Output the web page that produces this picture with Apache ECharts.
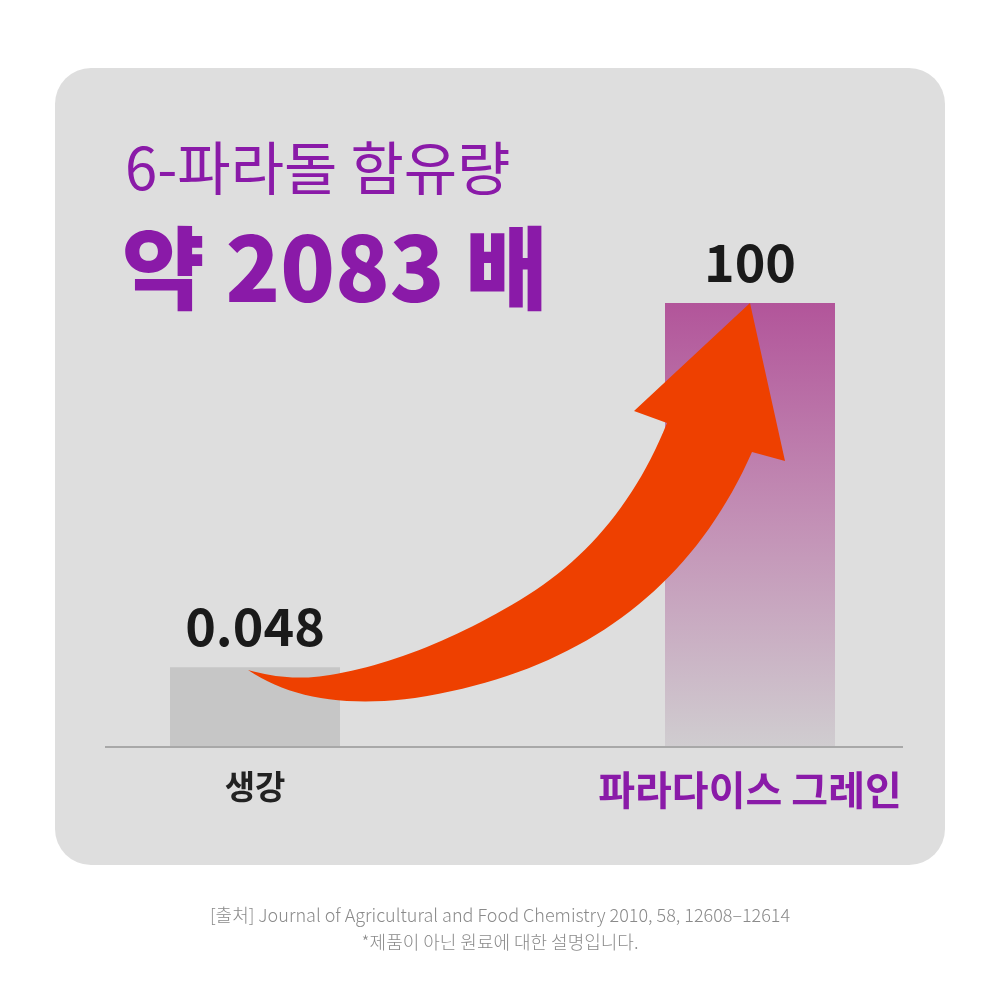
<!DOCTYPE html>
<html><head><meta charset="utf-8">
<script src="https://cdn.jsdelivr.net/npm/echarts@6/dist/echarts.min.js"></script>
<style>html,body{margin:0;padding:0;background:#fff}#c{width:1000px;height:1000px}</style>
</head><body><div id="c"></div>
<script>
const categories = ['생강', '파라다이스 그레인'];
const values = [0.048, 100];
const valueLabels = ['0.048', '100'];
const titleLine1 = '6-파라돌 함유량';
const titleLine2 = '약 2083 배';
const sourceLine1 = '[출처] Journal of Agricultural and Food Chemistry 2010, 58, 12608–12614';
const sourceLine2 = '*제품이 아닌 원료에 대한 설명입니다.';

const FONT = '"Noto Sans CJK KR", "Noto Sans", sans-serif';
const PURPLE = '#8a1aa8';

// decorative arrow outline, sampled from quadratic curves
function quad(p0, c, p1, n) {
  const out = [];
  for (let i = 1; i <= n; i++) {
    const t = i / n, u = 1 - t;
    out.push([u*u*p0[0] + 2*u*t*c[0] + t*t*p1[0], u*u*p0[1] + 2*u*t*c[1] + t*t*p1[1]]);
  }
  return out;
}
const arrowPts = [[248, 670]]
  .concat(quad([248, 670], [310, 712], [415, 698], 20))
  .concat(quad([415, 698], [660, 660], [752, 452], 40))
  .concat([[785, 461], [750, 303], [634, 411], [667, 423]])
  .concat(quad([667, 423], [620, 540], [520, 600], 25))
  .concat(quad([520, 600], [420, 660], [330, 675], 25))
  .concat(quad([330, 675], [290, 682], [248, 670], 15));

const chart = echarts.init(document.getElementById('c'), null, {renderer: 'canvas'});
chart.setOption({
  animation: false,
  backgroundColor: '#ffffff',
  grid: {left: 7.5, right: 2.5, top: 303, bottom: 253, containLabel: false},
  xAxis: {
    type: 'category',
    data: categories.map((c, i) => ({
      value: c,
      textStyle: i === 0
        ? {color: '#222222', fontSize: 33, fontWeight: 'bold', fontFamily: FONT}
        : {color: PURPLE, fontSize: 40, fontWeight: 'bold', fontFamily: FONT}
    })),
    axisLine: {show: false},
    axisTick: {show: false},
    axisLabel: {margin: 23}
  },
  yAxis: {
    type: 'log',
    min: 0.009,
    max: 100,
    startValue: 0.009,
    show: false,
    splitLine: {show: false}
  },
  series: [{
    type: 'bar',
    barWidth: 170,
    data: values.map((v, i) => ({
      value: v,
      itemStyle: i === 0 ? {color: '#c6c6c6'} : {
        color: {type: 'linear', x: 0, y: 0, x2: 0, y2: 1, colorStops: [
          {offset: 0, color: '#b2559a'},
          {offset: 0.5, color: '#c391b6'},
          {offset: 1, color: '#d0cdd0'}
        ]}
      }
    })),
    label: {
      show: true,
      position: 'top',
      distance: 15,
      formatter: p => valueLabels[p.dataIndex],
      fontFamily: FONT,
      fontSize: 52,
      fontWeight: 'bold',
      color: '#1a1a1a'
    },
    z: 3
  }],
  graphic: [
    {type: 'rect', z: -10, shape: {x: 55, y: 68, width: 890, height: 797, r: 36}, style: {fill: '#dedede'}},
    {type: 'line', z: 5, shape: {x1: 105, y1: 747, x2: 903, y2: 747}, style: {stroke: '#a8a8a8', lineWidth: 2}},
    {type: 'text', z: 5, x: 125, y: 168, style: {text: titleLine1, fill: PURPLE, font: '400 58px ' + FONT, textVerticalAlign: 'middle'}},
    {type: 'text', z: 5, x: 122, y: 268, style: {text: titleLine2, fill: PURPLE, font: '900 90px ' + FONT, textVerticalAlign: 'middle'}},
    {type: 'text', z: 5, x: 500, y: 915, style: {text: sourceLine1, fill: '#8a8a8a', font: '300 18px ' + FONT, textAlign: 'center', textVerticalAlign: 'middle'}},
    {type: 'text', z: 5, x: 500, y: 942, style: {text: sourceLine2, fill: '#8a8a8a', font: '300 18px ' + FONT, textAlign: 'center', textVerticalAlign: 'middle'}},
    {type: 'polygon', z: 20, shape: {points: arrowPts}, style: {fill: '#ee4000'}}
  ]
});
</script>
</body></html>
